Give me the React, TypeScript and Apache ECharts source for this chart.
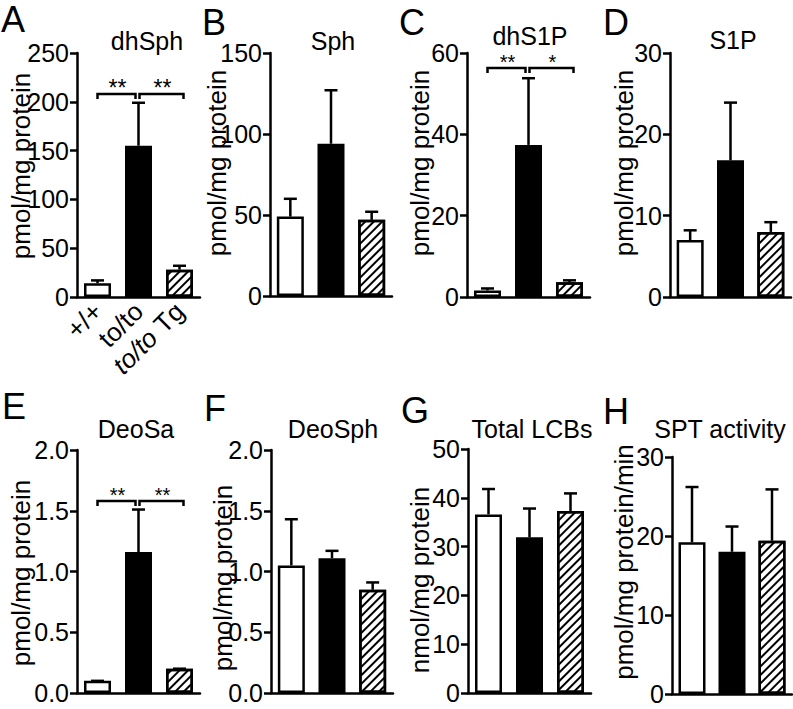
import React, { useEffect, useRef } from 'react';
import * as echarts from 'echarts';

const FONT = '"Liberation Sans", Arial, Helvetica, sans-serif';

const categories = ['+/+', 'to/to', 'to/to Tg'];

const panelLetters = ['A', 'B', 'C', 'D', 'E', 'F', 'G', 'H'];
const panelTitles = ['dhSph', 'Sph', 'dhS1P', 'S1P', 'DeoSa', 'DeoSph', 'Total LCBs', 'SPT activity'];
const yAxisNames = [
  'pmol/mg protein', 'pmol/mg protein', 'pmol/mg protein', 'pmol/mg protein',
  'pmol/mg protein', 'pmol/mg protein', 'nmol/mg protein', 'pmol/mg protein/min',
];

// means (+/+, to/to, to/to Tg) and upper SEM
const dhSphMeans = [14, 155, 28];
const dhSphErrors = [3, 44, 4];
const sphMeans = [49, 94, 47];
const sphErrors = [11, 33, 5];
const dhS1PMeans = [1.6, 37.4, 3.6];
const dhS1PErrors = [0.5, 16.4, 0.5];
const s1pMeans = [7.0, 16.8, 8.0];
const s1pErrors = [1.2, 7.1, 1.2];
const deoSaMeans = [0.1, 1.16, 0.2];
const deoSaErrors = [0, 0.35, 0];
const deoSphMeans = [1.05, 1.11, 0.85];
const deoSphErrors = [0.38, 0.06, 0.06];
const totalLCBMeans = [36.6, 31.9, 37.3];
const totalLCBErrors = [5.2, 5.9, 3.6];
const sptMeans = [19.2, 18.0, 19.4];
const sptErrors = [7.0, 3.2, 6.5];

const yMax = [250, 150, 60, 30, 2, 2, 50, 30];
const yInterval = [50, 50, 20, 10, 0.5, 0.5, 10, 10];
const yDecimals = [0, 0, 0, 0, 1, 1, 0, 0];

// significance brackets
const dhSphSig = [
  { from: 0, to: 1, y: 208, stars: '**' },
  { from: 1, to: 2, y: 208, stars: '**' },
];
const dhS1PSig = [
  { from: 0, to: 1, y: 56.3, stars: '**' },
  { from: 1, to: 2, y: 56.3, stars: '*' },
];
const deoSaSig = [
  { from: 0, to: 1, y: 1.58, stars: '**' },
  { from: 1, to: 2, y: 1.58, stars: '**' },
];

const means = [dhSphMeans, sphMeans, dhS1PMeans, s1pMeans, deoSaMeans, deoSphMeans, totalLCBMeans, sptMeans];
const errors = [dhSphErrors, sphErrors, dhS1PErrors, s1pErrors, deoSaErrors, deoSphErrors, totalLCBErrors, sptErrors];
const sigs: any[] = [dhSphSig, [], dhS1PSig, [], deoSaSig, [], [], []];

// layout (pixels)
const grids = [
  { left: 77, top: 53, width: 123, height: 244 },
  { left: 270, top: 53, width: 122, height: 243 },
  { left: 467, top: 53, width: 123, height: 244 },
  { left: 670, top: 53, width: 121, height: 244 },
  { left: 77, top: 450, width: 123, height: 243 },
  { left: 271, top: 450, width: 122, height: 243 },
  { left: 468, top: 449, width: 123, height: 244 },
  { left: 672, top: 457, width: 120, height: 237 },
];
const letterPos = [[1, 19], [202, 22], [399, 22], [603, 22], [2, 406], [204, 408], [401, 410], [603, 411]];
const titlePos = [[147, 41], [333, 41], [530, 36], [733, 40], [136, 429], [333, 429], [532, 429], [720, 429]];
const namePos = [[21, 166], [217, 163], [420, 163], [624, 163], [21, 573], [223, 578], [420, 580], [624, 562]];
const starSize = [23, 0, 20, 0, 20, 0, 0, 0];

const LW = 2.5;

function buildOption() {
  const grid: any[] = [];
  const xAxis: any[] = [];
  const yAxis: any[] = [];
  const series: any[] = [];
  const graphic: any[] = [];

  for (let p = 0; p < 8; p++) {
    grid.push({ ...grids[p], containLabel: false, outerBoundsMode: 'none' });
    xAxis.push({
      type: 'category',
      gridIndex: p,
      data: categories,
      axisLine: { show: true, lineStyle: { color: '#000', width: LW } },
      axisTick: { show: false },
      axisLabel: p === 0
        ? {
            show: true,
            rotate: 45,
            margin: 10,
            interval: 0,
            fontSize: 26,
            color: '#000',
            fontFamily: FONT,
            formatter: (v: string) => (v === 'to/to Tg' ? '{i|to/to} Tg' : v),
            rich: { i: { fontStyle: 'italic', fontSize: 26, color: '#000', fontFamily: FONT } },
          }
        : { show: false },
      splitLine: { show: false },
    });
    const dec = yDecimals[p];
    yAxis.push({
      type: 'value',
      gridIndex: p,
      min: 0,
      max: yMax[p],
      interval: yInterval[p],
      axisLine: { show: true, lineStyle: { color: '#000', width: LW } },
      axisTick: { show: true, inside: false, length: 7, lineStyle: { color: '#000', width: LW } },
      axisLabel: {
        show: true,
        fontSize: 25,
        color: '#000',
        fontFamily: FONT,
        margin: 8,
        formatter: (v: number) => v.toFixed(dec),
      },
      splitLine: { show: false },
    });

    const m = means[p];
    const e = errors[p];
    series.push({
      type: 'bar',
      xAxisIndex: p,
      yAxisIndex: p,
      barWidth: 27,
      z: 2,
      data: m.map((v, i) => ({
        value: v,
        itemStyle: i === 0
          ? { color: '#fff', borderColor: '#000', borderWidth: LW }
          : i === 1
          ? { color: '#000', borderColor: '#000', borderWidth: LW }
          : {
              color: '#fff',
              borderColor: '#000',
              borderWidth: LW,
              decal: {
                symbol: 'rect',
                symbolSize: 1,
                color: '#000',
                dashArrayX: [1, 0],
                dashArrayY: [2, 3.2],
                rotation: -Math.PI / 4,
              },
            },
      })),
    });

    series.push({
      type: 'custom',
      xAxisIndex: p,
      yAxisIndex: p,
      z: 3,
      data: m.map((v, i) => [i, v, e[i]]),
      renderItem: (params: any, api: any) => {
        const x = api.value(0);
        const v = api.value(1);
        const er = api.value(2);
        const p0 = api.coord([x, v]);
        const p1 = api.coord([x, v + er]);
        return {
          type: 'group',
          children: [
            { type: 'line', shape: { x1: p0[0], y1: p0[1], x2: p1[0], y2: p1[1] }, style: { stroke: '#000', lineWidth: LW } },
            { type: 'line', shape: { x1: p1[0] - 6.5, y1: p1[1], x2: p1[0] + 6.5, y2: p1[1] }, style: { stroke: '#000', lineWidth: LW } },
          ],
        };
      },
    });

    const sg = sigs[p];
    if (sg.length) {
      const fs = starSize[p];
      series.push({
        type: 'custom',
        xAxisIndex: p,
        yAxisIndex: p,
        z: 4,
        data: sg.map((s: any) => [s.from, s.to, s.y]),
        renderItem: (params: any, api: any) => {
          const s = sg[params.dataIndex];
          const a = api.coord([api.value(0), api.value(2)]);
          const b = api.coord([api.value(1), api.value(2)]);
          let x1 = a[0];
          let x2 = b[0];
          if (s.from === 0) { x2 -= 3; } else { x1 += 1; x2 += 4; }
          const y = a[1];
          return {
            type: 'group',
            children: [
              {
                type: 'polyline',
                shape: { points: [[x1, y + 5], [x1, y], [x2, y], [x2, y + 5]] },
                style: { stroke: '#000', lineWidth: LW, fill: null },
              },
              {
                type: 'text',
                x: (x1 + x2) / 2 + 1,
                y: y - 6,
                style: {
                  text: s.stars,
                  fill: '#000',
                  fontSize: fs,
                  fontFamily: FONT,
                  align: 'center',
                  verticalAlign: 'middle',
                  textAlign: 'center',
                  textVerticalAlign: 'middle',
                },
              },
            ],
          };
        },
      });
    }

    graphic.push({
      type: 'text',
      x: letterPos[p][0],
      y: letterPos[p][1],
      style: {
        text: panelLetters[p], fill: '#000', fontSize: 36, fontFamily: FONT,
        align: 'left', verticalAlign: 'middle', textAlign: 'left', textVerticalAlign: 'middle',
      },
    });
    graphic.push({
      type: 'text',
      x: titlePos[p][0],
      y: titlePos[p][1],
      style: {
        text: panelTitles[p], fill: '#000', fontSize: 25, fontFamily: FONT,
        align: 'center', verticalAlign: 'middle', textAlign: 'center', textVerticalAlign: 'middle',
      },
    });
    graphic.push({
      type: 'text',
      x: namePos[p][0],
      y: namePos[p][1],
      rotation: Math.PI / 2,
      style: {
        text: yAxisNames[p], fill: '#000', fontSize: 26, fontFamily: FONT,
        align: 'center', verticalAlign: 'middle', textAlign: 'center', textVerticalAlign: 'middle',
      },
    });
  }

  return {
    animation: false,
    backgroundColor: '#fff',
    grid,
    xAxis,
    yAxis,
    series,
    graphic,
  };
}

export default function App() {
  const ref = useRef<HTMLDivElement>(null);
  useEffect(() => {
    if (!ref.current) return;
    const chart = echarts.init(ref.current, undefined, { renderer: 'svg' });
    chart.setOption(buildOption() as any);
    return () => chart.dispose();
  }, []);
  return (
    <div
      ref={ref}
      style={{ position: 'fixed', left: 0, top: 0, width: 793, height: 709, background: '#fff' }}
    />
  );
}
